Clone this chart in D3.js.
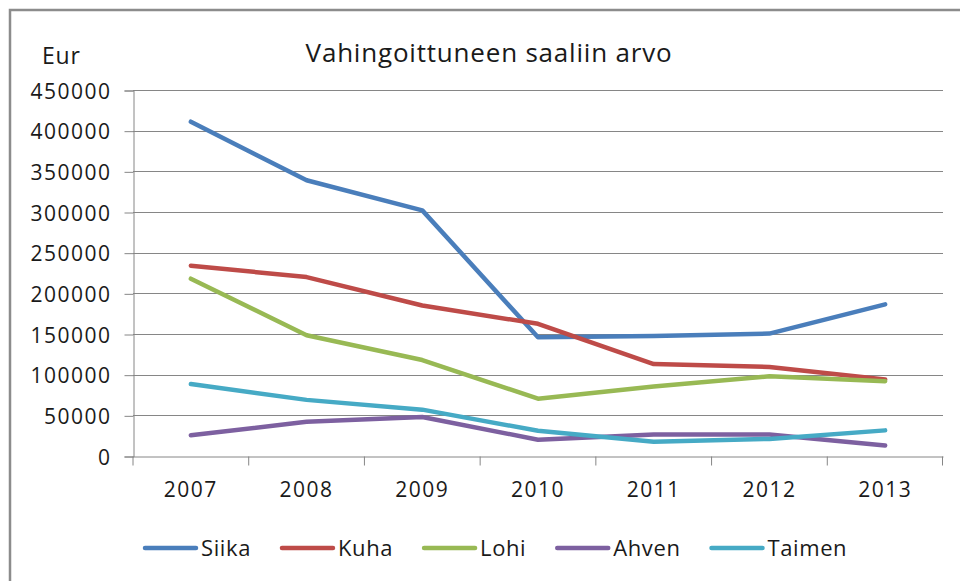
<!DOCTYPE html>
<html>
<head>
<meta charset="utf-8">
<script src="https://cdn.jsdelivr.net/npm/d3@7"></script>
<style>
  body { margin: 0; background: #fff; }
  text { font-family: "Open Sans", sans-serif; fill: #1a1a1a; }
</style>
</head>
<body>
<svg id="chart"></svg>
<script>
// data
var years = ["2007", "2008", "2009", "2010", "2011", "2012", "2013"];
var seriesNames = ["Siika", "Kuha", "Lohi", "Ahven", "Taimen"];
var siika  = [411000, 339000, 302000, 146000, 147500, 150500, 186500];
var kuha   = [234000, 220000, 185000, 162500, 113000, 109500, 94000];
var lohi   = [218000, 148500, 118000, 70500, 85500, 98000, 92000];
var ahven  = [25500, 42000, 48000, 20000, 26500, 26500, 13000];
var taimen = [88500, 69000, 57000, 31000, 17500, 21000, 31500];
var yTicks = [0, 50000, 100000, 150000, 200000, 250000, 300000, 350000, 400000, 450000];
var colors = ["#4a7ebb", "#be4b48", "#98b954", "#7d60a0", "#46aac5"];

var width = 960, height = 581;
var series = [siika, kuha, lohi, ahven, taimen].map(function(vals, i) {
  return { name: seriesNames[i], color: colors[i], values: vals };
});

var svg = d3.select("#chart")
    .attr("width", width)
    .attr("height", height);

// chart frame (runs off the right and bottom of the picture)
svg.append("rect")
    .attr("x", 10)
    .attr("y", 10)
    .attr("width", 1000)
    .attr("height", 620)
    .attr("fill", "#fff")
    .attr("stroke", "#8c8c8c")
    .attr("stroke-width", 2.5);

var plot = { left: 133, right: 943, top: 90, bottom: 456 };

var x = d3.scaleBand()
    .domain(years)
    .range([plot.left, plot.right]);

var y = d3.scaleLinear()
    .domain([0, 450000])
    .range([plot.bottom, plot.top]);

// gridlines
svg.append("g")
  .selectAll("line")
  .data(yTicks.slice(1))
  .enter()
  .append("line")
    .attr("x1", plot.left)
    .attr("x2", plot.right)
    .attr("y1", d => Math.round(y(d)) + 0.5)
    .attr("y2", d => Math.round(y(d)) + 0.5)
    .attr("stroke", "#868686")
    .attr("stroke-width", 1);

// y axis
var yAxis = svg.append("g")
    .attr("transform", "translate(" + (plot.left + 0.5) + ",0.5)")
    .call(d3.axisLeft(y).tickValues(yTicks).tickSize(9).tickPadding(13).tickFormat(d3.format("d")));

// x axis
var xAxis = svg.append("g")
    .attr("transform", "translate(0," + (plot.bottom + 0.5) + ")")
    .call(d3.axisBottom(x).tickSize(0).tickPadding(30));

xAxis.selectAll(".tick")
  .append("line")
    .attr("x1", -x.bandwidth() / 2)
    .attr("x2", -x.bandwidth() / 2)
    .attr("y2", 9);
xAxis.append("line")
    .attr("x1", plot.right - 0.5)
    .attr("x2", plot.right - 0.5)
    .attr("y2", 9);

[yAxis, xAxis].forEach(function(ax) {
  ax.select(".domain").attr("stroke", "#868686");
  ax.selectAll("line").attr("stroke", "#868686");
  ax.selectAll("text")
      .style("font-family", "'Open Sans', sans-serif")
      .style("font-size", "21px")
      .style("letter-spacing", "1.5px")
      .attr("fill", "#1a1a1a");
});
yAxis.selectAll("text").attr("dy", "0.36em");
xAxis.selectAll("text").attr("dy", "0.5em");

// lines
var line = d3.line()
    .x((d, i) => x(years[i]) + x.bandwidth() / 2)
    .y(d => y(d));

svg.append("g")
  .selectAll("path")
  .data(series)
  .enter()
  .append("path")
    .attr("d", d => line(d.values))
    .attr("fill", "none")
    .attr("stroke", d => d.color)
    .attr("stroke-width", 4.5)
    .attr("stroke-linejoin", "round")
    .attr("stroke-linecap", "round");

// titles
svg.append("text")
    .attr("x", 489)
    .attr("y", 62)
    .attr("text-anchor", "middle")
    .style("font-size", "26px")
    .style("letter-spacing", "0.8px")
    .text("Vahingoittuneen saaliin arvo");

svg.append("text")
    .attr("x", 42)
    .attr("y", 64)
    .style("font-size", "23px")
    .style("letter-spacing", "0.8px")
    .text("Eur");

// legend
var legend = svg.append("g")
    .attr("transform", "translate(143,548)");
var lx = 0;
series.forEach(function(s) {
  var g = legend.append("g").attr("transform", "translate(" + lx + ",0)");
  g.append("line")
      .attr("x1", 2)
      .attr("x2", 53)
      .attr("stroke", s.color)
      .attr("stroke-width", 4.5)
      .attr("stroke-linecap", "round");
  var t = g.append("text")
      .attr("x", 58)
      .attr("dy", "0.36em")
      .style("font-size", "22px")
      .style("letter-spacing", "0.6px")
      .text(s.name);
  lx += 58 + t.node().getComputedTextLength() + 29;
});
</script>
</body>
</html>
